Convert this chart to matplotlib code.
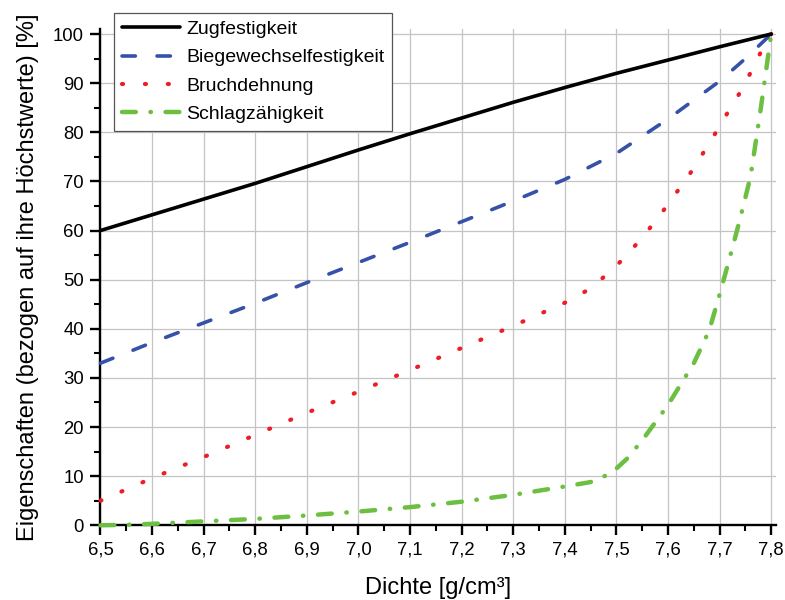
import numpy as np
import matplotlib
matplotlib.use('Agg')
import matplotlib.pyplot as plt
from matplotlib.ticker import MultipleLocator, FuncFormatter

plt.rcParams['font.family'] = ['Liberation Sans', 'DejaVu Sans']

# Zugfestigkeit
x_zug = [6.5, 6.6, 6.7, 6.8, 6.9, 7.0, 7.1, 7.2, 7.3, 7.4, 7.5, 7.6, 7.7, 7.8]
y_zug = [60, 63.2, 66.4, 69.6, 73.0, 76.4, 79.7, 82.9, 86.1, 89.1, 92.0, 94.7, 97.4, 100]

# Biegewechselfestigkeit
x_bwf = [6.5, 6.6, 6.7, 6.8, 6.9, 7.0, 7.1, 7.2, 7.3, 7.4, 7.5, 7.6, 7.7, 7.75, 7.8]
y_bwf = [33, 37.2, 41.2, 45.2, 49.4, 53.5, 57.6, 61.8, 66.0, 70.4, 75.7, 82.7, 90.4, 95.0, 100]

# Bruchdehnung
x_bd = [6.5, 6.6, 6.7, 6.8, 6.9, 7.0, 7.1, 7.2, 7.3, 7.4, 7.45, 7.5, 7.55, 7.6,
        7.65, 7.7, 7.72, 7.745, 7.765, 7.786, 7.8]
y_bd = [5, 9.6, 13.9, 18.4, 22.9, 27.2, 31.6, 36.1, 40.6, 45.3, 48.2, 52.8, 58.5, 65.3,
        72.7, 81.2, 84.8, 89.0, 93.2, 97.6, 100]

# Schlagzaehigkeit
x_sz = [6.5, 6.55, 6.6, 6.7, 6.8, 6.9, 7.0, 7.1, 7.2, 7.3, 7.4, 7.45, 7.49, 7.52,
        7.55, 7.6, 7.65, 7.68, 7.7, 7.72, 7.74, 7.76, 7.78, 7.79, 7.8]
y_sz = [0, 0.1, 0.3, 0.8, 1.3, 2.0, 2.8, 3.7, 4.8, 6.2, 7.9, 8.8, 10.6, 13.5,
        17.3, 24.5, 33.0, 39.7, 47.0, 54.6, 62.5, 71.0, 85.0, 92.5, 100]

fig = plt.figure(figsize=(7.85, 6.0), dpi=100)
ax = fig.add_axes([0.128, 0.1245, 0.861, 0.827])

ax.plot(x_zug, y_zug, color='black', lw=2.6, solid_capstyle='round',
        label='Zugfestigkeit', zorder=5, clip_on=False)
ax.plot(x_bwf, y_bwf, color='#3652a8', lw=2.6, dashes=(3.7, 6.0),
        dash_capstyle='round', label='Biegewechselfestigkeit', zorder=4, clip_on=False)
ax.plot(x_bd, y_bd, color='#ee1d25', lw=3.0, dashes=(0.25, 5.25),
        dash_capstyle='round', label='Bruchdehnung', zorder=3, clip_on=False)
ax.plot(x_sz, y_sz, color='#6cbf40', lw=3.2, dashes=(3.1, 3.3, 0.1, 3.3),
        dash_capstyle='round', label='Schlagzähigkeit', zorder=3, clip_on=False)

ax.set_xlim(6.5, 7.81)
ax.set_ylim(0, 101)
ax.xaxis.set_major_locator(MultipleLocator(0.1))
ax.xaxis.set_minor_locator(MultipleLocator(0.05))
ax.yaxis.set_major_locator(MultipleLocator(10))
ax.yaxis.set_minor_locator(MultipleLocator(5))
ax.xaxis.set_major_formatter(FuncFormatter(lambda v, p: ('%.1f' % v).replace('.', ',')))
ax.yaxis.set_major_formatter(FuncFormatter(lambda v, p: '%d' % round(v)))

ax.grid(True, which='major', color='#c4c4c4', lw=0.9)
ax.set_axisbelow(True)
for s in ['top', 'right']:
    ax.spines[s].set_visible(False)
for s in ['left', 'bottom']:
    ax.spines[s].set_linewidth(1.7)
ax.tick_params(which='major', direction='out', length=7, width=1.7, labelsize=13.3, pad=5)
ax.tick_params(which='minor', direction='out', length=4.5, width=1.5)

ax.set_xlabel('Dichte [g/cm³]', fontsize=17, labelpad=13)
ax.set_ylabel('Eigenschaften (bezogen auf ihre Höchstwerte) [%]', fontsize=17, labelpad=10)

leg = ax.legend(loc='upper left', bbox_to_anchor=(0.133, 0.995),
                bbox_transform=fig.transFigure, fontsize=14, handlelength=3.0,
                handletextpad=0.3, labelspacing=0.55, borderpad=0.4,
                fancybox=False, framealpha=1, edgecolor='#555555')
leg.get_frame().set_linewidth(0.9)
leg.set_zorder(10)

fig.savefig('out.png', dpi=100)
